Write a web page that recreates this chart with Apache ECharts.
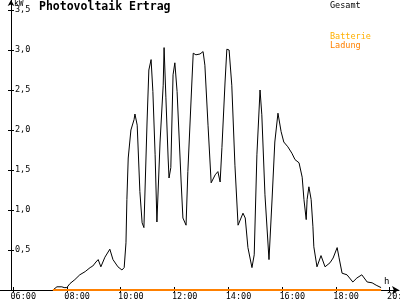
<!DOCTYPE html>
<html>
<head>
<meta charset="utf-8">
<script src="https://cdn.jsdelivr.net/npm/echarts@6/dist/echarts.min.js"></script>
<style>
html,body{margin:0;padding:0;background:#fff;}
#chart{width:400px;height:300px;}
</style>
</head>
<body>
<div id="chart"></div>
<script>
// ---- data ----
const gesamtTimes = ['07:29','07:38','07:49','07:54','08:00','08:07','08:18','08:29','08:41','08:52',
  '08:58','09:05','09:10','09:16','09:25','09:36','09:43','09:54','10:03','10:08',
  '10:12','10:14','10:17','10:23','10:30','10:32','10:37','10:43','10:48','10:52',
  '10:59','11:03','11:08','11:12','11:17','11:21','11:28','11:35','11:37','11:41',
  '11:46','11:48','11:52','11:57','12:01','12:06','12:15','12:19','12:26','12:30',
  '12:39','12:42','12:48','12:57','13:04','13:08','13:15','13:22','13:31','13:37',
  '13:42','13:46','13:53','13:57','14:02','14:08','14:15','14:22','14:33','14:38',
  '14:44','14:53','14:58','15:04','15:11','15:15','15:22','15:31','15:38','15:44',
  '15:51','15:58','16:04','16:13','16:22','16:29','16:38','16:45','16:49','16:54',
  '16:56','17:00','17:05','17:09','17:11','17:18','17:27','17:36','17:47','17:54',
  '18:03','18:07','18:14','18:25','18:38','18:47','18:58','19:10','19:21','19:30','19:41'];
const gesamtValues = [0,0.04,0.04,0.03,0.03,0.08,0.13,0.19,0.23,0.28,
  0.30,0.35,0.38,0.29,0.41,0.51,0.38,0.29,0.25,0.28,
  0.59,1.13,1.65,2.00,2.13,2.20,2.06,1.23,0.84,0.78,
  2.10,2.75,2.88,2.48,1.69,0.85,1.85,2.56,3.03,2.41,
  1.65,1.40,1.53,2.69,2.84,2.48,1.35,0.90,0.81,1.48,
  2.60,2.96,2.94,2.95,2.98,2.81,2.06,1.34,1.44,1.48,
  1.35,1.78,2.60,3.01,3.00,2.56,1.56,0.81,0.96,0.90,
  0.53,0.28,0.44,1.69,2.50,2.19,1.19,0.38,1.15,1.85,
  2.21,1.98,1.85,1.79,1.71,1.63,1.59,1.41,1.13,0.88,
  1.13,1.29,1.13,0.79,0.54,0.29,0.43,0.29,0.34,0.40,
  0.53,0.41,0.21,0.19,0.10,0.15,0.19,0.10,0.09,0.06,0.03];
const ladungTimes = ['07:29','19:41'];
const ladungValues = [0, 0];
const batterieValues = [];
const xTickLabels = ['06:00','08:00','10:00','12:00','14:00','16:00','18:00','20:00'];
const yTickValues = [0.5,1.0,1.5,2.0,2.5,3.0,3.5];

// ---- helpers ----
function toH(s){ const p = s.split(':').map(Number); return p[0] + p[1]/60; }
const xTickVals = xTickLabels.map(toH);
const pxPerH = 26.9;
const xMin = 6 - 13/pxPerH;
const xMax = xMin + 399/pxPerH;
const labShift = 2.5/pxPerH;
const yMax = 3.625;
const mono = 'DejaVu Sans Mono';

const chart = echarts.init(document.getElementById('chart'), null, {renderer:'canvas'});
const baseX = {type:'value', gridIndex:0, position:'bottom', min:xMin, max:xMax, splitLine:{show:false}};
const baseY = {type:'value', gridIndex:0, position:'left', min:0, max:yMax, offset:-11, splitLine:{show:false}};

chart.setOption({
  animation:false,
  backgroundColor:'#fff',
  title:{text:'Photovoltaik Ertrag', left:39, top:1, padding:0,
    textStyle:{fontFamily:mono, fontSize:11.5, fontWeight:'bold', color:'#000', lineHeight:12}},
  legend:[
    {data:['Gesamt'], left:325, top:1, padding:0, itemWidth:0, itemHeight:0, icon:'rect',
      selectedMode:false, textStyle:{fontFamily:mono, fontSize:8.5, color:'#000', lineHeight:8}},
    {data:[{name:'Batterie', textStyle:{color:'#ffb000'}}, {name:'Ladung', textStyle:{color:'#ff8000'}}],
      orient:'vertical', left:325, top:32, padding:0, itemGap:0, itemWidth:0, itemHeight:0, icon:'rect',
      selectedMode:false, textStyle:{fontFamily:mono, fontSize:8.5, lineHeight:7.5}}
  ],
  graphic:[
    {type:'text', left:14, top:0, style:{text:'kW', font:'8px "DejaVu Sans Mono"', fill:'#000'}},
    {type:'text', left:384, top:277, style:{text:'h', font:'9px "DejaVu Sans Mono"', fill:'#000'}}
  ],
  grid:{left:0, right:1, top:0, bottom:10, containLabel:false, outerBoundsMode:'none'},
  xAxis:[
    Object.assign({}, baseX, {
      axisLine:{show:true, onZero:false, symbol:['none','arrow'], symbolSize:[6,7], lineStyle:{color:'#000', width:1}},
      axisTick:{show:true, inside:true, length:3, customValues:xTickVals, lineStyle:{color:'#000'}},
      axisLabel:{show:false}}),
    Object.assign({}, baseX, {
      axisLine:{show:false, onZero:false},
      axisTick:{show:true, inside:false, length:2, customValues:xTickVals, lineStyle:{color:'#000'}},
      axisLabel:{show:false}}),
    Object.assign({}, baseX, {min:xMin+labShift, max:xMax+labShift,
      axisLine:{show:false, onZero:false}, axisTick:{show:false},
      axisLabel:{show:true, customValues:xTickVals, align:'left', margin:2, fontFamily:mono, fontSize:8.5,
        lineHeight:9, color:'#000', hideOverlap:false,
        formatter:function(v){ const h = Math.round(v); return (h<10?'0':'')+h+':00'; }}})
  ],
  yAxis:[
    Object.assign({}, baseY, {
      axisLine:{show:true, onZero:false, symbol:['none','arrow'], symbolSize:[5,6], lineStyle:{color:'#000', width:1}},
      axisTick:{show:true, inside:true, length:3, customValues:yTickValues, lineStyle:{color:'#000'}},
      axisLabel:{show:false}}),
    Object.assign({}, baseY, {
      axisLine:{show:false, onZero:false},
      axisTick:{show:true, inside:false, length:3, customValues:yTickValues, lineStyle:{color:'#000'}},
      axisLabel:{show:false}}),
    Object.assign({}, baseY, {
      axisLine:{show:false, onZero:false}, axisTick:{show:false},
      axisLabel:{show:true, inside:true, margin:4, customValues:yTickValues, fontFamily:mono, fontSize:8.5,
        color:'#000', formatter:function(v){ return v.toFixed(1).replace('.', ','); }}})
  ],
  series:[
    {name:'Gesamt', type:'line', xAxisIndex:0, yAxisIndex:0, symbol:'none', color:'#000',
      lineStyle:{color:'#000', width:1}, z:3,
      data:gesamtTimes.map(function(t,i){ return [toH(t), gesamtValues[i]]; })},
    {name:'Batterie', type:'line', xAxisIndex:0, yAxisIndex:0, symbol:'none', color:'#ffb000',
      lineStyle:{color:'#ffb000', width:2}, data:batterieValues},
    {name:'Ladung', type:'line', xAxisIndex:0, yAxisIndex:0, symbol:'none', color:'#ff8000',
      lineStyle:{color:'#ff8000', width:2}, z:4,
      data:ladungTimes.map(function(t,i){ return [toH(t), ladungValues[i]]; })}
  ]
});
</script>
</body>
</html>
